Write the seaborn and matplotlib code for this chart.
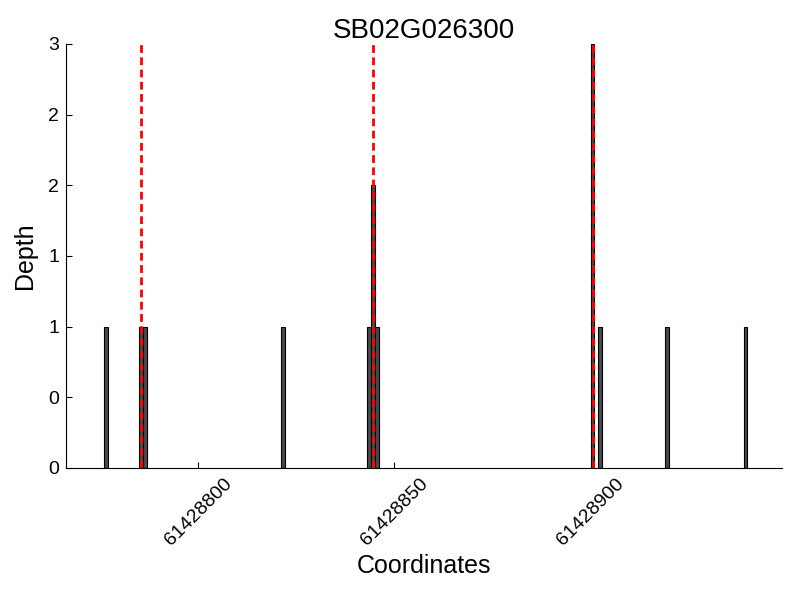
import matplotlib
matplotlib.use("Agg")
import matplotlib.pyplot as plt
import seaborn as sns
import numpy as np
from matplotlib.ticker import FixedLocator, FixedFormatter

# ---- data ----
title = "SB02G026300"
bar_starts = [61428776, 61428785, 61428786, 61428821, 61428843, 61428844,
              61428845, 61428900, 61428902, 61428919, 61428939]
depths = [1, 1, 1, 1, 1, 2, 1, 3, 1, 1, 1]
marker_positions = [61428785.5, 61428844.5, 61428900.5]
x_ticks = [61428800, 61428850, 61428900]
x_tick_labels = ["61428800", "61428850", "61428900"]
y_ticks = [0, 0.5, 1, 1.5, 2, 2.5, 3]
y_tick_labels = ["%d" % v for v in y_ticks]

sns.set_style("ticks")
plt.rcParams['font.family'] = ['Liberation Sans', 'DejaVu Sans']
plt.rcParams['text.color'] = 'black'
plt.rcParams['axes.labelcolor'] = 'black'
plt.rcParams['xtick.color'] = 'black'
plt.rcParams['ytick.color'] = 'black'

fig = plt.figure(figsize=(8, 6), dpi=100)
ax = fig.add_axes([0.0825, 0.22, 0.895, 0.7067])

centers = np.array(bar_starts, dtype=float) + 0.5
sns.barplot(x=centers, y=depths, native_scale=True, width=1, color="#4a4a4a",
            saturation=1, edgecolor="black", linewidth=0.8, errorbar=None, ax=ax)

for xm in marker_positions:
    ax.axvline(xm, color="red", linewidth=2.0, linestyle=(0, (2.8, 1.6)), zorder=5)

ax.set_xlim(61428766.3, 61428948.8)
ax.set_ylim(0, 3)
ax.xaxis.set_major_locator(FixedLocator(x_ticks))
ax.xaxis.set_major_formatter(FixedFormatter(x_tick_labels))
ax.yaxis.set_major_locator(FixedLocator(y_ticks))
ax.yaxis.set_major_formatter(FixedFormatter(y_tick_labels))

ax.tick_params(axis="both", direction="in", length=4, width=0.8, labelsize=14,
               pad=5, colors="black")
for lbl in ax.get_xticklabels():
    lbl.set_rotation(45)
    lbl.set_ha("center")

for s in ["top", "right"]:
    ax.spines[s].set_visible(False)
for s in ["left", "bottom"]:
    ax.spines[s].set_color("black")
    ax.spines[s].set_linewidth(0.8)

ax.set_xlabel("Coordinates", fontsize=18, labelpad=4)
ax.set_ylabel("Depth", fontsize=18, labelpad=8)
ax.set_title(title, fontsize=20, color="black", pad=3)

fig.savefig("out.png", dpi=100)
